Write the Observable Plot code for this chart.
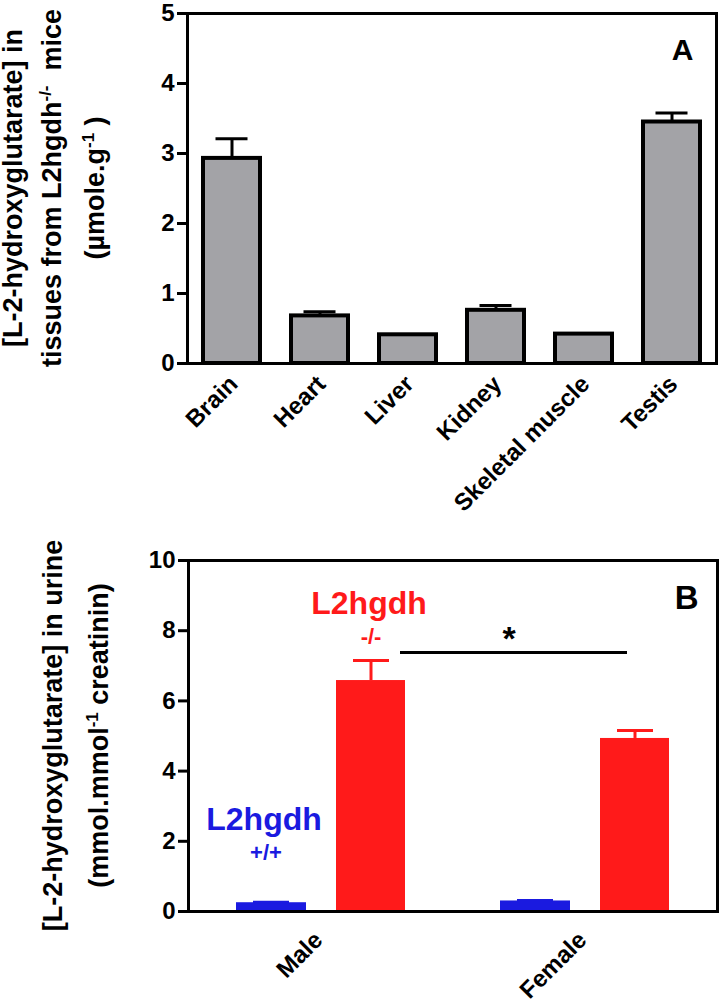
<!DOCTYPE html>
<html><head><meta charset="utf-8">
<script src="https://cdn.jsdelivr.net/npm/d3@7"></script>
<script src="https://cdn.jsdelivr.net/npm/@observablehq/plot@0.6"></script>
<style>
html,body{margin:0;padding:0;background:#fff;}
#chart{width:720px;}
#chart svg{display:block;max-width:none;overflow:visible;}
[aria-label^="y-axis"] line, [aria-label="y-axis tick"] path {stroke-width:3px;}
</style></head><body><div id="chart"></div>
<script>
// ---- Panel A data ----
const tissues = ["Brain", "Heart", "Liver", "Kidney", "Skeletal muscle", "Testis"];
const tissueMean = [2.93, 0.68, 0.41, 0.76, 0.42, 3.45];
const tissueSem = [0.28, 0.06, 0.005, 0.07, 0.01, 0.13];
const yTicksA = [0, 1, 2, 3, 4, 5];
const yLabelA = [
  ["[L-2-hydroxyglutarate] in"],
  ["tissues from L2hgdh", {sup: "-/-"}, "  mice"],
  ["(µmole.g", {sup: "-1"}, " )"]
];

// ---- Panel B data ----
const sexes = ["Male", "Female"];
const wildMean = [0.25, 0.30];
const wildSem = [0.01, 0.01];
const koMean = [6.58, 4.93];
const koSem = [0.57, 0.23];
const yTicksB = [0, 2, 4, 6, 8, 10];
const yLabelB = [
  ["[L-2-hydroxyglutarate] in urine"],
  ["(mmol.mmol", {sup: "-1"}, " creatinin)"]
];
const genoName = "L2hgdh";
const wildLabel = "+/+";
const koLabel = "-/-";
const sigMark = "*";
const panelLabels = ["A", "B"];

const blue = "#1a1ae0";
const red = "#ff1a1a";
const gray = "#a3a3a7";
const baseStyle = {fontFamily: "'Liberation Sans', Arial, sans-serif", fontSize: "24px", fontWeight: "bold", color: "black", background: "white", overflow: "visible"};

const dataA = tissues.map((t, i) => ({tissue: t, mean: tissueMean[i], sem: tissueSem[i]}));
const dataB = sexes.map((s, i) => ({sex: s, wt: wildMean[i], wtSem: wildSem[i], ko: koMean[i], koSem: koSem[i]}));

function addYLabel(svg, lines, xs, opts) {
  const cy = opts.marginTop + (opts.height - opts.marginTop - opts.marginBottom) / 2;
  const s = d3.select(svg);
  lines.forEach((segs, li) => {
    const t = s.append("text")
      .attr("transform", `translate(${xs[li]},${cy}) rotate(-90)`)
      .attr("text-anchor", "middle")
      .attr("font-size", 27)
      .attr("font-weight", "bold")
      .attr("fill", "black");
    let shifted = false;
    segs.forEach(seg => {
      if (typeof seg === "string") {
        const ts = t.append("tspan").text(seg);
        if (shifted) { ts.attr("dy", 10); shifted = false; }
      } else {
        t.append("tspan").attr("font-size", 17).attr("dy", -10).text(seg.sup);
        shifted = true;
      }
    });
  });
}

const optsA = {width: 720, height: 540, marginLeft: 187, marginRight: 4, marginTop: 13, marginBottom: 177};
const plotA = Plot.plot({
  ...optsA,
  style: baseStyle,
  x: {domain: tissues, paddingInner: 0.35, paddingOuter: 0.18, axis: null},
  y: {domain: [0, 5], ticks: yTicksA, tickFormat: "d", tickSize: 10, tickPadding: 3, label: null},
  marks: [
    Plot.ruleX(dataA, {x: "tissue", y1: "mean", y2: d => d.mean + d.sem, stroke: "black", strokeWidth: 3}),
    Plot.tickY(dataA, {x: "tissue", y: d => d.mean + d.sem, stroke: "black", strokeWidth: 3, insetLeft: 12.5, insetRight: 12.5}),
    Plot.barY(dataA, {x: "tissue", y: "mean", fill: gray, stroke: "black", strokeWidth: 4}),
    Plot.text(dataA, {x: "tissue", text: "tissue", frameAnchor: "bottom", rotate: -45, textAnchor: "end", dx: 7, dy: 22, fontSize: 24}),
    Plot.frame({stroke: "black", strokeWidth: 3}),
    Plot.text(panelLabels.slice(0, 1), {text: d => d, frameAnchor: "top-right", lineAnchor: "top", dx: -23, dy: 25, fontSize: 30})
  ]
});
addYLabel(plotA, yLabelA, [22, 61, 104], optsA);

const optsB = {width: 720, height: 465, marginLeft: 188, marginRight: 3, marginTop: 20, marginBottom: 94};
const plotB = Plot.plot({
  ...optsB,
  style: baseStyle,
  x: {domain: sexes, paddingInner: 0.2, paddingOuter: 0.1, axis: null},
  y: {domain: [0, 10], ticks: yTicksB, tickFormat: "d", tickSize: 10, tickPadding: 3, label: null},
  marks: [
    Plot.barY(dataB, {x: "sex", y: "wt", fill: blue, insetLeft: 21, insetRight: 120}),
    Plot.ruleX(dataB, {x: "sex", y1: "wt", y2: d => d.wt + d.wtSem, stroke: blue, strokeWidth: 3, dx: -49.5}),
    Plot.tickY(dataB, {x: "sex", y: d => d.wt + d.wtSem, stroke: blue, strokeWidth: 3, insetLeft: 38, insetRight: 137}),
    Plot.ruleX(dataB, {x: "sex", y1: "ko", y2: d => d.ko + d.koSem, stroke: red, strokeWidth: 3, dx: 50}),
    Plot.tickY(dataB, {x: "sex", y: d => d.ko + d.koSem, stroke: red, strokeWidth: 3, insetLeft: 138, insetRight: 37}),
    Plot.barY(dataB, {x: "sex", y: "ko", fill: red, insetLeft: 121, insetRight: 21}),
    Plot.text(dataB, {x: "sex", text: "sex", frameAnchor: "bottom", rotate: -45, textAnchor: "end", dx: 3, dy: 30, fontSize: 24}),
    // genotype annotations over the Male bars
    Plot.text([genoName], {x: () => sexes[0], y: () => 2.60, text: d => d, fill: blue, fontSize: 32, dx: -57}),
    Plot.text([wildLabel], {x: () => sexes[0], y: () => 1.68, text: d => d, fill: blue, fontSize: 22, dx: -55}),
    Plot.text([genoName], {x: () => sexes[0], y: () => 8.78, text: d => d, fill: red, fontSize: 32, dx: 48}),
    Plot.text([koLabel], {x: () => sexes[0], y: () => 7.81, text: d => d, fill: red, fontSize: 22, dx: 50}),
    // significance bracket
    Plot.ruleY([7.38], {x1: () => sexes[0], x2: () => sexes[1], stroke: "black", strokeWidth: 3, insetLeft: 185, insetRight: 63}),
    Plot.text([sigMark], {x: () => sexes[1], y: () => 7.77, text: d => d, fontSize: 34, dx: -76}),
    Plot.frame({stroke: "black", strokeWidth: 3}),
    Plot.text(panelLabels.slice(1, 2), {text: d => d, frameAnchor: "top-right", lineAnchor: "top", dx: -19, dy: 25, fontSize: 33})
  ]
});
addYLabel(plotB, yLabelB, [62, 108], optsB);

const chart = document.getElementById("chart");
chart.appendChild(plotA);
chart.appendChild(plotB);
</script>
</body></html>
